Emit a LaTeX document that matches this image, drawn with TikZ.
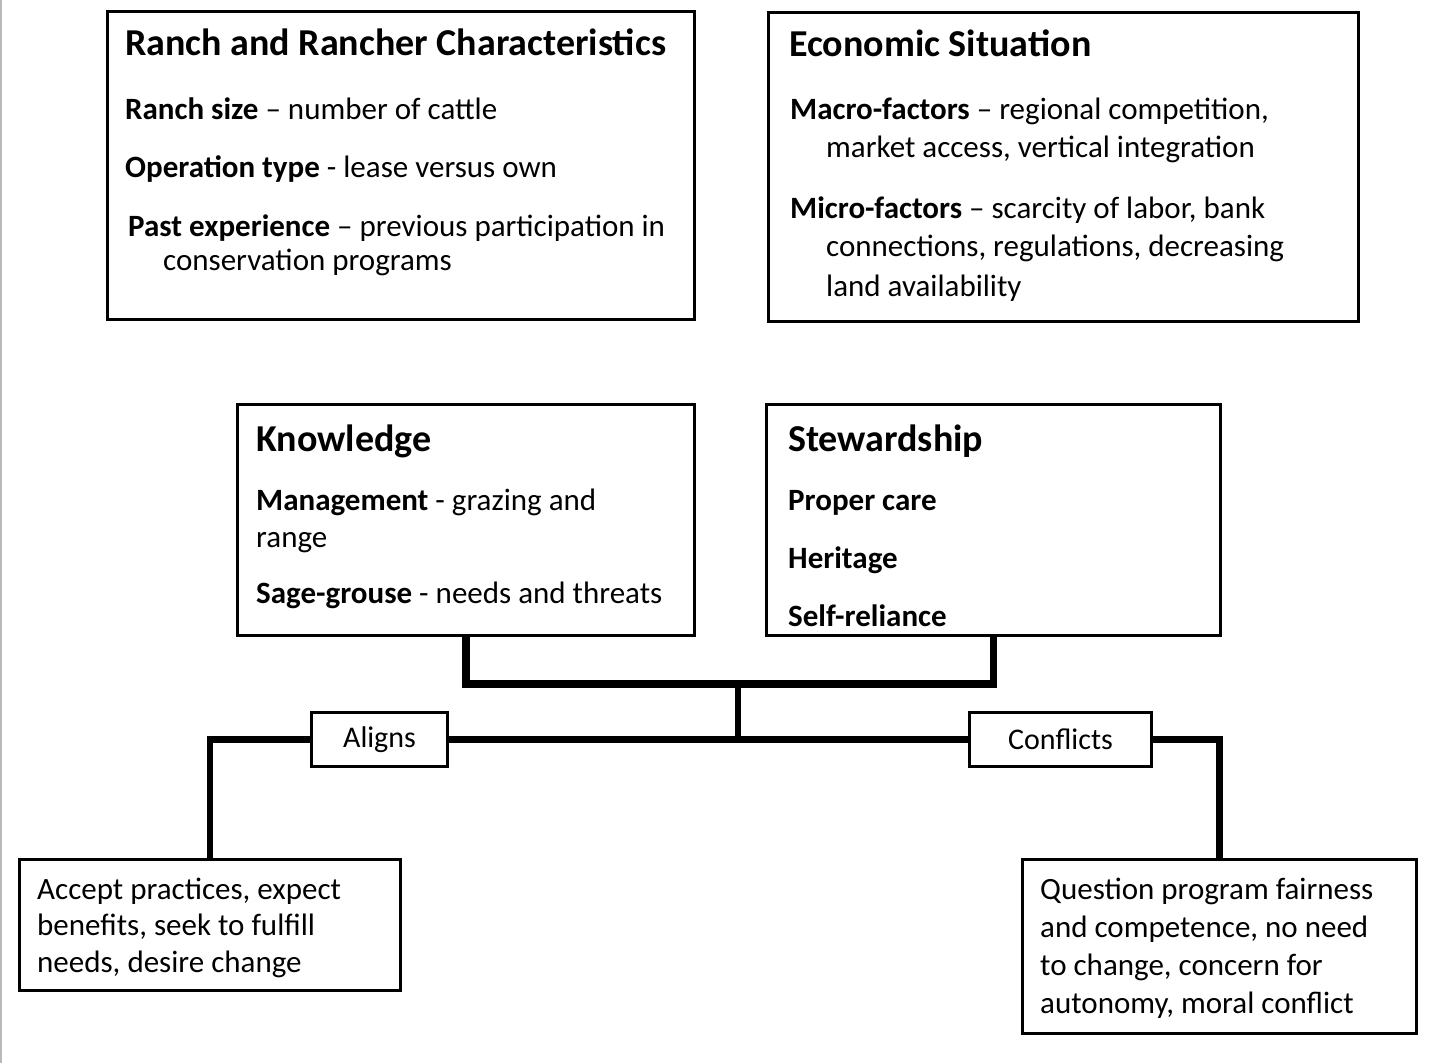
\documentclass[tikz,border=0pt]{standalone}
\usepackage{fontspec}
\setmainfont{Carlito}
\begin{document}
\begin{tikzpicture}[x=1pt,y=-1pt,
  box/.style={draw=black, line width=3pt, rectangle, inner sep=0pt, anchor=north west},
  ttl/.style={anchor=base west, inner sep=0pt, font=\fontsize{38}{40}\selectfont\bfseries},
  txt/.style={anchor=base west, inner sep=0pt, font=\fontsize{31}{34}\selectfont},
  tag/.style={inner sep=0pt, font=\fontsize{30}{32}\selectfont},
  link/.style={draw=black, line width=6.5pt},
  trunk/.style={draw=black, line width=7.5pt}]
\useasboundingbox (0,0) rectangle (1430,1063);
\fill[white] (0,0) rectangle (1430,1063);
\draw[gray!55, line width=2.5pt] (1,0) -- (1,1063);

% ---- upper boxes ----
\node[box, minimum width=587pt, minimum height=308pt] (ranch) at (106,10) {};
\node[ttl] (ranchT) at (125,55) {Ranch and Rancher Characteristics};
\node[txt] (ranchA) at (125,119) {\textbf{Ranch size} – number of cattle};
\node[txt] (ranchB) at (125,177) {\textbf{Operation type} - lease versus own};
\node[txt] (ranchC) at (128,236) {\textbf{Past experience} – previous participation in};
\node[txt] (ranchD) at (163,270) {conservation programs};

\node[box, minimum width=590pt, minimum height=309pt] (econ) at (767,11) {};
\node[ttl] (econT) at (789,56) {Economic Situation};
\node[txt] (econA) at (790,119) {\textbf{Macro-factors} – regional competition,};
\node[txt] (econB) at (826,157) {market access, vertical integration};
\node[txt] (econC) at (790,218) {\textbf{Micro-factors} – scarcity of labor, bank};
\node[txt] (econD) at (826,256) {connections, regulations, decreasing};
\node[txt] (econE) at (826,296) {land availability};

% ---- middle boxes ----
\node[box, minimum width=457pt, minimum height=231pt] (know) at (236,403) {};
\node[ttl] (knowT) at (256,451) {Knowledge};
\node[txt] (knowA) at (256,510) {\textbf{Management} - grazing and};
\node[txt] (knowB) at (256,547) {range};
\node[txt] (knowC) at (256,603) {\textbf{Sage-grouse} - needs and threats};

\node[box, minimum width=454pt, minimum height=231pt] (stew) at (765,403) {};
\node[ttl] (stewT) at (788,451) {Stewardship};
\node[txt] (stewA) at (788,510) {\textbf{Proper care}};
\node[txt] (stewB) at (788,568) {\textbf{Heritage}};
\node[txt] (stewC) at (788,626) {\textbf{Self-reliance}};

% ---- branch labels ----
\node[box, minimum width=136pt, minimum height=54pt] (aligns) at (310,711) {};
\node[tag] (alignsT) at (aligns.center) {Aligns};
\node[box, minimum width=182pt, minimum height=54pt] (conflicts) at (968,711) {};
\node[tag] (conflictsT) at (conflicts.center) {Conflicts};

% ---- outcome boxes ----
\node[box, minimum width=381pt, minimum height=131pt] (accept) at (18,858) {};
\node[txt] (acceptA) at (37,899) {Accept practices, expect};
\node[txt] (acceptB) at (37,935) {benefits, seek to fulfill};
\node[txt] (acceptC) at (37,972) {needs, desire change};

\node[box, minimum width=394pt, minimum height=174pt] (question) at (1021,858) {};
\node[txt] (questionA) at (1040,899) {Question program fairness};
\node[txt] (questionB) at (1040,937) {and competence, no need};
\node[txt] (questionC) at (1040,975) {to change, concern for};
\node[txt] (questionD) at (1040,1013) {autonomy, moral conflict};

% ---- connectors ----
\coordinate (join) at (738,684);
\draw[trunk] (know.south) -- (know.south |- join) -- (stew.south |- join) -- (stew.south);
\draw[link] (join) -- (join |- aligns.east);
\draw[link] (aligns.east) -- (conflicts.west);
\draw[link] (aligns.west) -| (accept.north);
\draw[link] (conflicts.east) -| (question.north);
\end{tikzpicture}
\end{document}
